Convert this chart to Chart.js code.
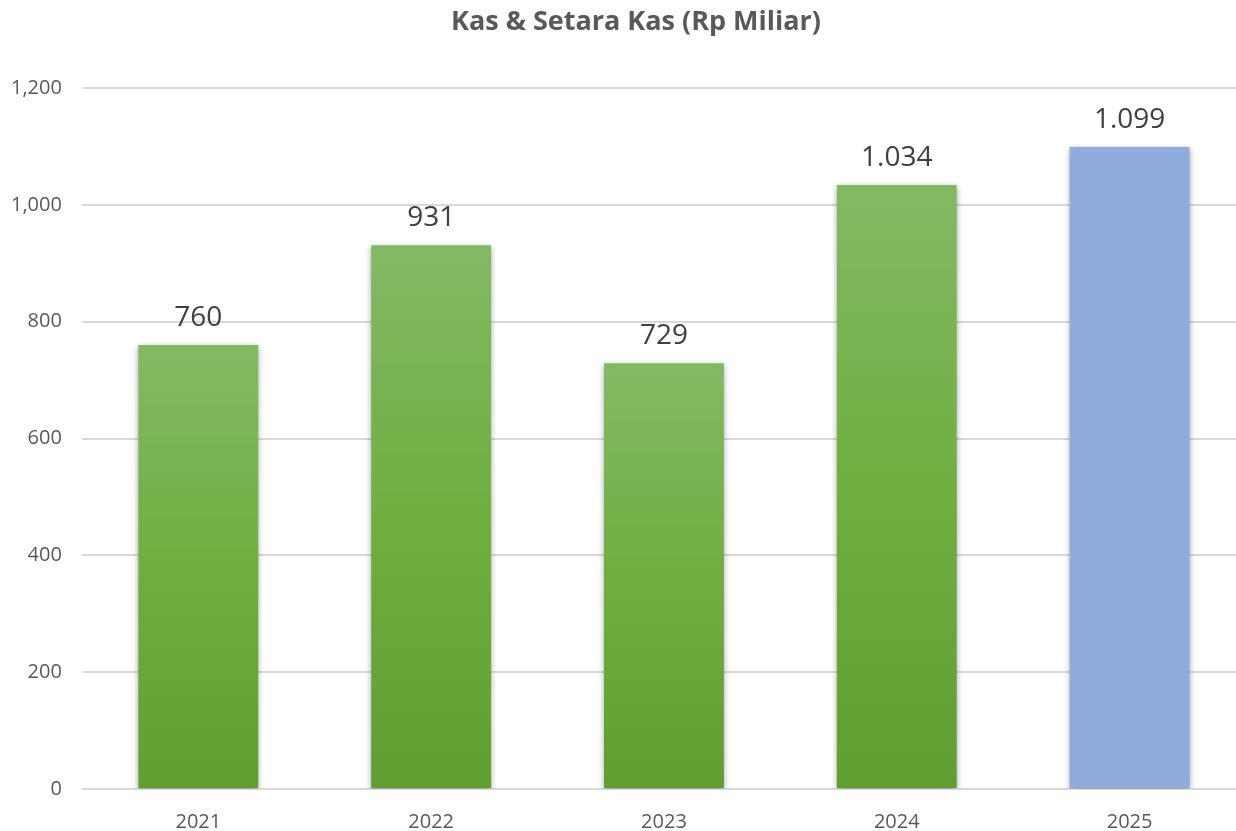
<!DOCTYPE html>
<html lang="en">
<head>
  <meta charset="UTF-8">
  <title>Kas & Setara Kas</title>
  <script src="https://cdn.jsdelivr.net/npm/chart.js"></script>
  <style>
    body { margin: 0; background: #fff; font-family: "Open Sans", sans-serif; overflow: hidden; }
    #wrap { width: 1236px; height: 831px; overflow: hidden; }
  </style>
</head>
<body>
  <!-- area plot sedikit melewati tepi kanan, seperti aslinya -->
  <div id="wrap"><canvas id="kasChart" width="1246" height="831"></canvas></div>

  <script>
    // data
    const years = ["2021", "2022", "2023", "2024", "2025"];
    const kasValues = [760, 931, 729, 1034, 1099];
    const kasLabels = ["760", "931", "729", "1.034", "1.099"];
    const chartTitle = "Kas & Setara Kas (Rp Miliar)";

    const fontFam = "'Open Sans', 'Noto Sans', sans-serif";

    // gradient hijau per batang, 2025 biru polos
    function barColor(ctx) {
      const chart = ctx.chart;
      const i = ctx.dataIndex;
      if (i === 4) return "#8FACDC";
      const y = chart.scales && chart.scales.y;
      if (!chart.chartArea || !y) return "#70AD47";
      const top = y.getPixelForValue(kasValues[i]);
      const bottom = y.getPixelForValue(0);
      const g = chart.ctx.createLinearGradient(0, top, 0, bottom);
      g.addColorStop(0, "#83B965");
      g.addColorStop(0.5, "#6EAF40");
      g.addColorStop(1, "#5F9F32");
      return g;
    }

    const barShadow = {
      id: "barShadow",
      beforeDatasetDraw(chart) {
        const c = chart.ctx;
        c.save();
        c.shadowColor = "rgba(0,0,0,0.35)";
        c.shadowBlur = 6;
        c.shadowOffsetX = 0;
        c.shadowOffsetY = 2;
      },
      afterDatasetDraw(chart) {
        chart.ctx.restore();
      }
    };

    // judul digambar sendiri supaya posisinya bisa diatur
    const titleDraw = {
      id: "titleDraw",
      afterDraw(chart) {
        const c = chart.ctx;
        c.save();
        c.font = "bold 27px " + fontFam;
        c.fillStyle = "#595959";
        c.textAlign = "center";
        c.textBaseline = "middle";
        c.fillText(chartTitle, 636, 22);
        c.restore();
      }
    };

    const valueLabels = {
      id: "valueLabels",
      afterDatasetsDraw(chart) {
        const c = chart.ctx;
        const meta = chart.getDatasetMeta(0);
        c.save();
        c.font = "28px " + fontFam;
        c.fillStyle = "#404040";
        c.textAlign = "center";
        c.textBaseline = "alphabetic";
        meta.data.forEach((bar, i) => {
          c.fillText(kasLabels[i], bar.x, bar.y - 19);
        });
        c.restore();
      }
    };

    new Chart(document.getElementById("kasChart").getContext("2d"), {
      type: "bar",
      data: {
        labels: years,
        datasets: [{
          label: "Kas & Setara Kas",
          data: kasValues,
          backgroundColor: barColor,
          borderWidth: 0,
          categoryPercentage: 1.0,
          barPercentage: 0.515
        }]
      },
      options: {
        responsive: false,
        animation: false,
        layout: { padding: { left: -9, right: 0, top: 88, bottom: -24 } },
        plugins: {
          legend: { display: false },
          tooltip: { enabled: false },
          title: { display: false }
        },
        scales: {
          x: {
            grid: { display: false, drawTicks: false },
            border: { display: false },
            ticks: {
              color: "#595959",
              font: { family: fontFam, size: 20 },
              padding: 21
            }
          },
          y: {
            min: 0,
            max: 1200,
            border: { display: false },
            grid: { color: "#D9D9D9", lineWidth: 2, drawTicks: false },
            ticks: {
              stepSize: 200,
              color: "#595959",
              font: { family: fontFam, size: 20 },
              padding: 20,
              callback: v => v.toLocaleString("en-US")
            }
          }
        }
      },
      plugins: [barShadow, valueLabels, titleDraw]
    });
  </script>
</body>
</html>
